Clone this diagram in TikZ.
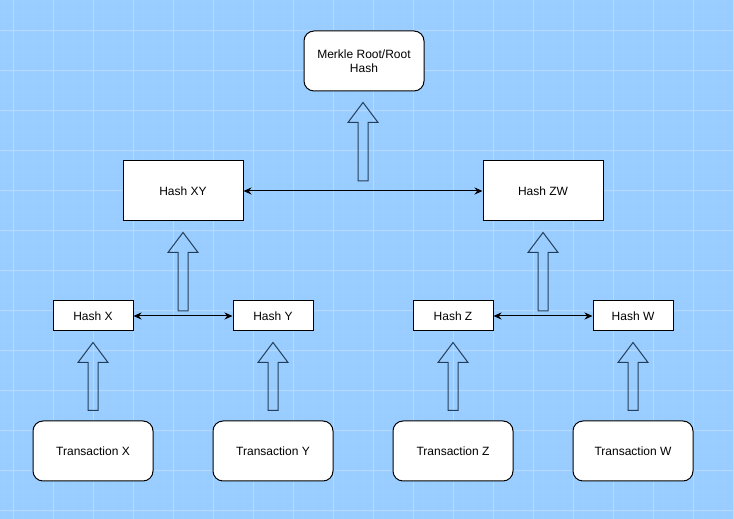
\documentclass[tikz,border=0pt]{standalone}
\usepackage{fontspec}
\setmainfont{Liberation Sans}
\usetikzlibrary{arrows.meta, positioning, calc}

\definecolor{canvas}{RGB}{153,204,255}
\definecolor{majorline}{RGB}{182,217,255}
\definecolor{minorline}{RGB}{158,206,255}
\definecolor{arrowline}{RGB}{35,62,88}

\tikzset{
  hashbox/.style={draw=black, fill=white, line width=1pt, minimum width=80pt,
    minimum height=30pt, inner sep=0pt, font=\fontsize{12}{14}\selectfont},
  bighash/.style={hashbox, minimum width=120pt, minimum height=60pt},
  txbox/.style={bighash, rounded corners=10pt},
  rootbox/.style={txbox, align=center},
  link/.style={line width=1pt, {Stealth[length=8pt,width=7pt]}-{Stealth[length=8pt,width=7pt]}},
  blockarrow/.style={draw=arrowline, line width=1pt, line join=miter},
  minorgrid/.style={minorline, line width=0.5pt},
  majorgrid/.style={majorline, line width=1pt}
}

% block arrow from a coordinate up to a node
\newcommand{\blockup}[2]{%
  \draw[blockarrow] let \p1=(#1), \p2=(#2.south) in
    (\x1-5,\y1) -- (\x1-5,\y2-31) -- (\x1-15,\y2-31) -- (\x1,\y2-11)
    -- (\x1+15,\y2-31) -- (\x1+5,\y2-31) -- (\x1+5,\y1) -- cycle;}

\begin{document}
\begin{tikzpicture}[x=1pt, y=1pt]
    % Background and grid
    \fill[canvas] (0,0) rectangle (734,519);
    \useasboundingbox (0,0) rectangle (734,519);
    \foreach \gx in {3,13,...,733} \draw[minorgrid] (\gx,0) -- (\gx,519);
    \foreach \gy in {8,18,...,518} \draw[minorgrid] (0,\gy) -- (734,\gy);
    \foreach \gx in {13,53,...,733} \draw[majorgrid] (\gx,0) -- (\gx,519);
    \foreach \gy in {8,48,...,488} \draw[majorgrid] (0,\gy) -- (734,\gy);

    % Transactions and leaf hashes
    \foreach \leaf/\col in {X/93, Y/273, Z/453, W/633} {
        \node[txbox] (t\leaf) at (\col,68) {Transaction \leaf};
        \node[hashbox] (h\leaf) at (\col,203) {Hash \leaf};
        \coordinate (s\leaf) at ($(t\leaf.north)+(0,10)$);
        \blockup{s\leaf}{h\leaf}
    }

    % Second level
    \node[bighash] (hXY) at (183,328) {Hash XY};
    \node[bighash] (hZW) at (543,328) {Hash ZW};
    \draw[link] (hX) -- (hY);
    \draw[link] (hZ) -- (hW);
    \coordinate (sXY) at ($(hX.east)!0.5!(hY.west)+(0,5)$);
    \coordinate (sZW) at ($(hZ.east)!0.5!(hW.west)+(0,5)$);
    \blockup{sXY}{hXY}
    \blockup{sZW}{hZW}

    % Root
    \node[rootbox] (root) at (364,458) {Merkle Root/Root\\Hash};
    \draw[link] (hXY) -- (hZW);
    \coordinate (sRoot) at ($(hXY.east)!0.5!(hZW.west)+(0,10)$);
    \blockup{sRoot}{root}
\end{tikzpicture}
\end{document}
